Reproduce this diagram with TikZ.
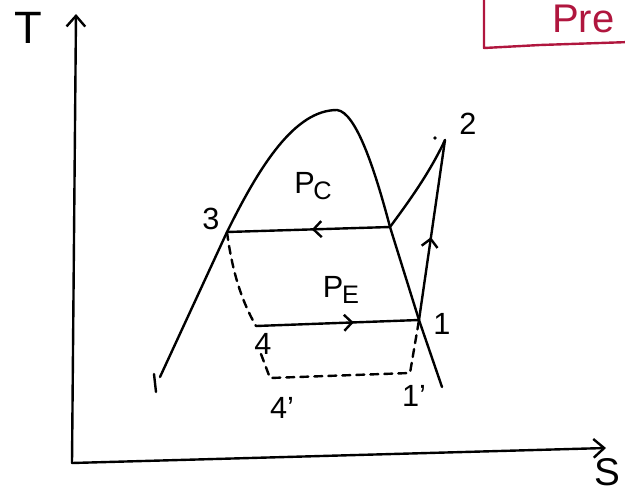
\documentclass[tikz,border=0pt]{standalone}
\usepackage{fontspec}
\setmainfont{Liberation Sans}
\usetikzlibrary{arrows.meta,decorations.markings}
\definecolor{penred}{RGB}{176,22,62}
\newcommand{\psub}[1]{P\kern-1pt\raisebox{-0.35ex}{\fontsize{19}{19}\selectfont #1}}

\begin{document}
\begin{tikzpicture}[x=0.75pt,y=-0.75pt,
  pen/.style={line width=1.8pt,line cap=round,line join=round},
  dashpen/.style={pen,dash pattern=on 6pt off 4.5pt},
  axis/.style={pen,-{Straight Barb[length=8pt,width=14pt]}},
  flow/.style={pen,postaction={decorate},
    decoration={markings,mark=at position #1 with {\arrow{Straight Barb[length=6pt,width=12pt,line width=1.8pt]}}}},
  lbl/.style={font=\fontsize{23}{23}\selectfont,inner sep=0pt},
  axlbl/.style={font=\fontsize{34}{34}\selectfont,inner sep=0pt}
]
\useasboundingbox (0,0) rectangle (625,497);
\clip (0,0) rectangle (625,497);

% axes
\coordinate (o) at (72,463);
\coordinate (ttop) at (76,14);
\coordinate (send) at (606,448);
\draw[axis] (o) -- (ttop);
\draw[axis] (o) -- (send);
\node[axlbl] (tl) at (28,28) {T};
\node[axlbl,anchor=east,font=\fontsize{29}{29}\selectfont] (sl) at (621,472) {S};

% state points
\coordinate (p1) at (419,320);
\coordinate (p2) at (445,140);
\coordinate (p3) at (227,232);
\coordinate (p4) at (256,326);
\coordinate (pv) at (390,227);
\coordinate (pk) at (337,110);
\coordinate (c4) at (270,378);
\coordinate (c1) at (410,373);

% saturation dome
\draw[pen] (160,377) -- (p3) .. controls (260,165) and (295,110) .. (pk)
  .. controls (356,112) and (375,170) .. (pv) -- (p1) -- (442,387);
\draw[pen] (154,374) -- (156,392);

% cycle
\draw[pen] (pv) .. controls (410,200) and (430,172) .. (p2);
\draw[flow=0.46] (p1) -- (p2);
\draw[flow=0.48] (pv) -- (p3);
\draw[flow=0.6] (p4) -- (p1);
\fill (435,138) circle (1.4pt);

% subcooled / superheated variant
\draw[dashpen] (p3) .. controls (232,270) and (241,300) .. (p4);
\draw[dashpen] (261,354) -- (c4) -- (c1) -- (p1);

% labels
\node[lbl] (l1) at (442,324) {1};
\node[lbl] (l2) at (468,124) {2};
\node[lbl] (l3) at (211,219) {3};
\node[lbl] (l4) at (263,344) {4};
\node[lbl] (l4p) at (282,408) {4'};
\node[lbl] (l1p) at (414,396) {1'};
\node[lbl] (lpc) at (313,186) {\psub{C}};
\node[lbl] (lpe) at (341,290) {\psub{E}};

% note box at top right
\draw[pen,draw=penred] (484,-5) -- (484,48) -- (540,45) -- (630,42);
\node[font=\fontsize{30}{30}\selectfont,text=penred,anchor=west,inner sep=0pt] (note) at (552,19) {Pre};
\end{tikzpicture}
\end{document}
